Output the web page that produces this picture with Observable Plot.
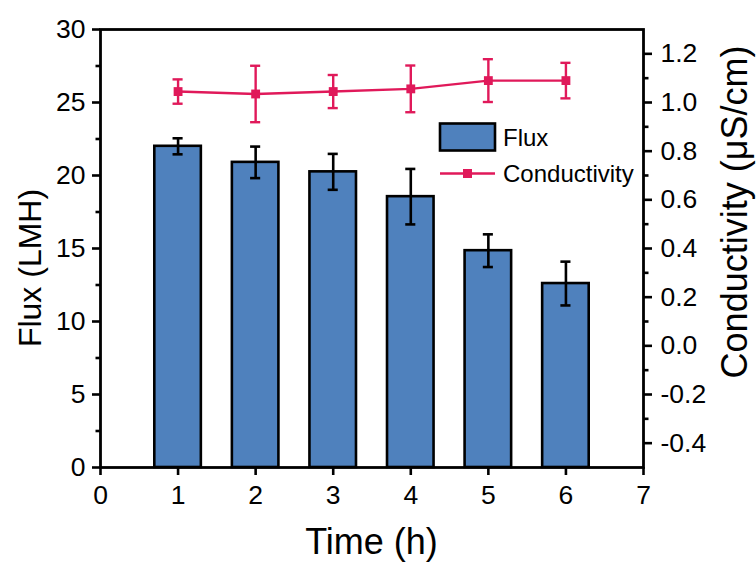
<!DOCTYPE html>
<html>
<head>
<meta charset="utf-8">
<script src="https://cdn.jsdelivr.net/npm/d3@7"></script>
<script src="https://cdn.jsdelivr.net/npm/@observablehq/plot@0.6"></script>
<style>
  html, body { margin: 0; padding: 0; background: white; }
  #chart { width: 756px; height: 562px; }
</style>
</head>
<body>
<div id="chart"></div>
<script>
// ---- data ----
const times = [1, 2, 3, 4, 5, 6];
const flux = [22.0, 20.9, 20.25, 18.55, 14.85, 12.6];
const fluxErr = [0.55, 1.08, 1.23, 1.9, 1.12, 1.5];
const conductivity = [1.045, 1.035, 1.045, 1.056, 1.09, 1.09];
const conductivityErr = [0.05, 0.116, 0.068, 0.096, 0.088, 0.073];
const xTicks = [0, 1, 2, 3, 4, 5, 6, 7];
const fluxTicks = [0, 5, 10, 15, 20, 25, 30];
const fluxMinorTicks = [2.5, 7.5, 12.5, 17.5, 22.5, 27.5];
const condTicks = [-0.4, -0.2, 0.0, 0.2, 0.4, 0.6, 0.8, 1.0, 1.2];
const condMinorTicks = [-0.3, -0.1, 0.1, 0.3, 0.5, 0.7, 0.9, 1.1];
const seriesNames = ["Flux", "Conductivity"];
const xLabel = "Time (h)";
const yLabel = "Flux (LMH)";
const y2Label = "Conductivity (μS/cm)";

const BLUE = "#4f81bd";
const PINK = "#e0195a";

const data = times.map((t, i) => ({
  t, flux: flux[i], fe: fluxErr[i], c: conductivity[i], ce: conductivityErr[i]
}));

// secondary axis: conductivity domain mapped onto the flux domain
const cond = d3.scaleLinear([-0.5, 1.3], [0, 30]);
const fmtCond = v => { const c = cond.invert(v); return (Math.abs(c) < 1e-9 ? 0 : c).toFixed(1); };

const barHalf = 0.3;
const capHalf = 0.065;
const FS = 26.5;

const plot = Plot.plot({
  width: 756,
  height: 562,
  marginLeft: 100,
  marginRight: 113,
  marginTop: 29,
  marginBottom: 95,
  style: { fontFamily: "'Liberation Sans', Arial, sans-serif", fontSize: "26px", color: "black", background: "white" },
  x: { domain: [0, 7] },
  y: { domain: [0, 30] },
  marks: [
    Plot.rectY(data, { x1: d => d.t - barHalf, x2: d => d.t + barHalf, y1: 0, y2: "flux", fill: BLUE, stroke: "black", strokeWidth: 2.6 }),
    Plot.ruleX(data, { x: "t", y1: d => d.flux - d.fe, y2: d => d.flux + d.fe, stroke: "black", strokeWidth: 2.6 }),
    Plot.ruleY(data, { y: d => d.flux - d.fe, x1: d => d.t - capHalf, x2: d => d.t + capHalf, stroke: "black", strokeWidth: 2.6 }),
    Plot.ruleY(data, { y: d => d.flux + d.fe, x1: d => d.t - capHalf, x2: d => d.t + capHalf, stroke: "black", strokeWidth: 2.6 }),
    Plot.line(data, { x: "t", y: d => cond(d.c), stroke: PINK, strokeWidth: 2.4 }),
    Plot.ruleX(data, { x: "t", y1: d => cond(d.c - d.ce), y2: d => cond(d.c + d.ce), stroke: PINK, strokeWidth: 2.4 }),
    Plot.ruleY(data, { y: d => cond(d.c - d.ce), x1: d => d.t - capHalf, x2: d => d.t + capHalf, stroke: PINK, strokeWidth: 2.4 }),
    Plot.ruleY(data, { y: d => cond(d.c + d.ce), x1: d => d.t - capHalf, x2: d => d.t + capHalf, stroke: PINK, strokeWidth: 2.4 }),
    Plot.dot(data, { x: "t", y: d => cond(d.c), symbol: "square", r: 5, fill: PINK, stroke: "none" }),
    Plot.axisX({ ticks: xTicks, tickSize: 8, tickPadding: 10, strokeWidth: 2.6, fontSize: FS, label: null, tickFormat: d => String(d) }),
    Plot.axisY({ ticks: fluxTicks, tickSize: 8, tickPadding: 7, strokeWidth: 2.6, fontSize: FS, label: null, tickFormat: d => String(d) }),
    Plot.axisY({ ticks: fluxMinorTicks, tickSize: 4.5, strokeWidth: 2.6, label: null, tickFormat: () => "" }),
    Plot.axisY({ ticks: condTicks.map(cond), anchor: "right", tickSize: 8, tickPadding: 9, strokeWidth: 2.6, fontSize: FS, label: null, tickFormat: fmtCond }),
    Plot.axisY({ ticks: condMinorTicks.map(cond), anchor: "right", tickSize: 4.5, strokeWidth: 2.6, label: null, tickFormat: () => "" }),
    Plot.frame({ stroke: "black", strokeWidth: 2.8 })
  ]
});

document.getElementById("chart").appendChild(plot);

// titles and legend
const svg = d3.select(plot);
const ff = "'Liberation Sans', Arial, sans-serif";
svg.append("text").attr("x", 371.5).attr("y", 554).attr("text-anchor", "middle")
  .attr("font-family", ff).attr("font-size", 36).attr("fill", "black").text(xLabel);
svg.append("text").attr("transform", "translate(41,268) rotate(-90)").attr("text-anchor", "middle")
  .attr("font-family", ff).attr("font-size", 32).attr("fill", "black").text(yLabel);
svg.append("text").attr("transform", "translate(747,212) rotate(-90)").attr("text-anchor", "middle")
  .attr("font-family", ff).attr("font-size", 36).attr("fill", "black").text(y2Label);

const lg = svg.append("g").attr("text-anchor", "start");
lg.append("rect").attr("x", 440).attr("y", 123.5).attr("width", 55).attr("height", 27)
  .attr("fill", BLUE).attr("stroke", "black").attr("stroke-width", 2.6);
lg.append("text").attr("x", 503).attr("y", 145.5).attr("text-anchor", "start").attr("font-family", ff).attr("font-size", 24)
  .attr("fill", "black").text(seriesNames[0]);
lg.append("line").attr("x1", 440).attr("x2", 495).attr("y1", 173.5).attr("y2", 173.5)
  .attr("stroke", PINK).attr("stroke-width", 2.4);
lg.append("rect").attr("x", 463).attr("y", 169).attr("width", 9).attr("height", 9).attr("fill", PINK);
lg.append("text").attr("x", 503).attr("y", 182).attr("text-anchor", "start").attr("font-family", ff).attr("font-size", 24)
  .attr("fill", "black").text(seriesNames[1]);
</script>
</body>
</html>
